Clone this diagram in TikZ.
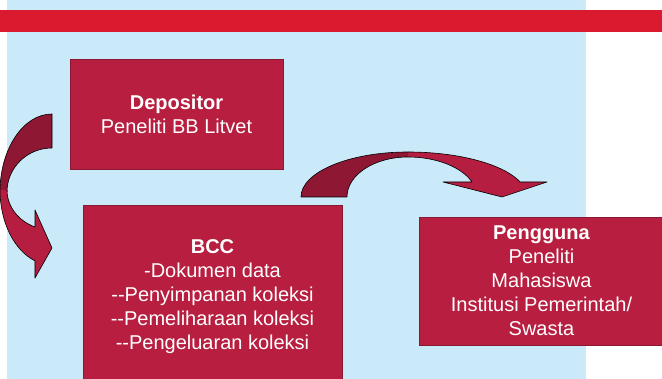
\documentclass[tikz,border=0pt]{standalone}
\usepackage{fontspec}
\setmainfont{Liberation Sans}
\definecolor{bgblue}{HTML}{CAEAF9}
\definecolor{band}{HTML}{DA1A2E}
\definecolor{boxfill}{HTML}{B71E40}
\definecolor{boxborder}{HTML}{8A1830}
\definecolor{arrdark}{HTML}{8E1733}
\definecolor{arrlight}{HTML}{B51E40}
\begin{document}
\begin{tikzpicture}[x=1pt,y=1pt,
  box/.style={draw=boxborder, fill=boxfill, line width=0.8pt, text=white,
    align=center, font=\fontsize{20}{24}\selectfont, inner sep=0pt},
  arrline/.style={draw=black, line width=0.6pt, line join=round}]
\useasboundingbox (0,0) rectangle (662,379);
% background
\fill[bgblue] (7,0) rectangle (586,379);
\fill[band] (0,347) rectangle (662,369);
% boxes
\node[box, minimum width=213pt, minimum height=110pt] (dep) at (176.5,265)
  {\textbf{Depositor}\\Peneliti BB Litvet};
\node[box, minimum width=259pt, minimum height=184pt] (bcc) at (212.5,82)
  {\textbf{BCC}\\-Dokumen data\\-{}-Penyimpanan koleksi\\-{}-Pemeliharaan koleksi\\-{}-Pengeluaran koleksi};
\node[box, minimum width=245pt, minimum height=128pt] (usr) at (541.5,98)
  {\textbf{Pengguna}\\Peneliti\\Mahasiswa\\Institusi Pemerintah/\\Swasta};
% left curved arrow (Depositor -> BCC): back part
\fill[arrdark] (52,265) arc[start angle=90, end angle=180, x radius=52, y radius=78]
  -- (7,187) arc[start angle=180, end angle=90, x radius=45, y radius=44] -- cycle;
\draw[arrline] (7,187) arc[start angle=180, end angle=90, x radius=45, y radius=44]
  -- (52,265) arc[start angle=90, end angle=180, x radius=52, y radius=78];
% front part
\fill[arrlight] (0,189) arc[start angle=180, end angle=250.9, x radius=52, y radius=75]
  -- (35,101) -- (52,131) -- (35,169) -- (35,152)
  arc[start angle=247.8, end angle=180, x radius=45, y radius=40] -- cycle;
\draw[arrline] (0,189) arc[start angle=180, end angle=250.9, x radius=52, y radius=75]
  -- (35,101) -- (52,131) -- (35,169) -- (35,152)
  arc[start angle=247.8, end angle=180, x radius=45, y radius=40];
% top curved arrow (BCC -> Pengguna): back part
\fill[arrdark] (301,182) arc[start angle=180, end angle=90, x radius=107, y radius=45]
  -- (408,222) arc[start angle=90, end angle=180, x radius=61, y radius=40] -- cycle;
\draw[arrline] (408,222) arc[start angle=90, end angle=180, x radius=61, y radius=40]
  -- (301,182) arc[start angle=180, end angle=90, x radius=107, y radius=45];
% front part
\fill[arrlight] (408,227) arc[start angle=90, end angle=19.47, x radius=119, y radius=45]
  -- (547,197) -- (502,182) -- (443,197) -- (472,197)
  arc[start angle=22.02, end angle=90, x radius=69, y radius=40] -- cycle;
\draw[arrline] (408,227) arc[start angle=90, end angle=19.47, x radius=119, y radius=45]
  -- (547,197) -- (502,182) -- (443,197) -- (472,197)
  arc[start angle=22.02, end angle=90, x radius=69, y radius=40];
\end{tikzpicture}
\end{document}
